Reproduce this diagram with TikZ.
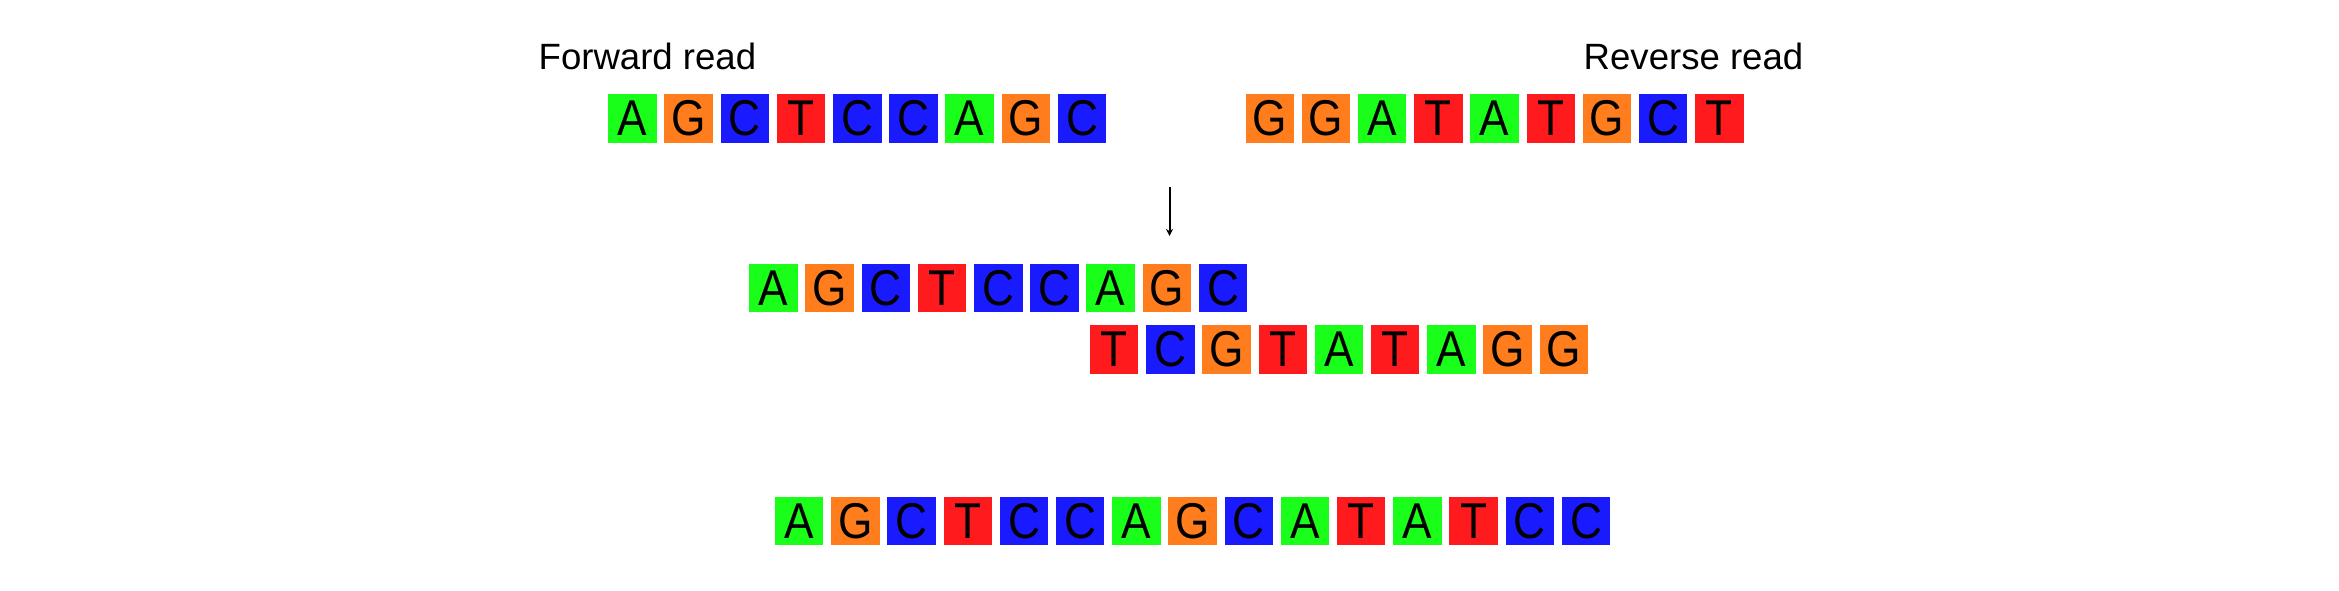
\documentclass[tikz,border=0pt]{standalone}
\usepackage{fontspec}
\setmainfont{Liberation Sans}
\newfontfamily\basefont[FakeStretch=0.88]{Liberation Sans}
\usetikzlibrary{arrows.meta}

\definecolor{colA}{RGB}{26,255,26}
\definecolor{colG}{RGB}{255,125,28}
\definecolor{colC}{RGB}{26,26,255}
\definecolor{colT}{RGB}{255,26,30}

\tikzset{
	base/.style={minimum width=0.485cm, minimum height=0.485cm, inner sep=0pt, text=black,
		font=\basefont\fontsize{14.3}{14.3}\selectfont},
	ntA/.style={base, fill=colA},
	ntG/.style={base, fill=colG},
	ntC/.style={base, fill=colC},
	ntT/.style={base, fill=colT},
	readlabel/.style={anchor=base west, inner sep=0pt, font=\fontsize{10.4}{12}\selectfont}
}

\begin{document}
\begin{tikzpicture}[x=0.01cm, y=-0.01cm]
			\useasboundingbox (0,0) rectangle (2339,591);

			% read labels
			\path	(538,70)	node[readlabel]	(fwdlabel)	{Forward read}
					(1583,70)	node[readlabel]	(revlabel)	{Reverse read};

			% forward read
			\path	(632.5,118.5)	node[ntA]	(f1)	{A}
					(688.7,118.5)	node[ntG]	(f2)	{G}
					(744.9,118.5)	node[ntC]	(f3)	{C}
					(801.1,118.5)	node[ntT]	(f4)	{T}
					(857.3,118.5)	node[ntC]	(f5)	{C}
					(913.5,118.5)	node[ntC]	(f6)	{C}
					(969.7,118.5)	node[ntA]	(f7)	{A}
					(1025.9,118.5)	node[ntG]	(f8)	{G}
					(1082.1,118.5)	node[ntC]	(f9)	{C};

			% reverse read
			\path	(1269.8,118.5)	node[ntG]	(r1)	{G}
					(1326.0,118.5)	node[ntG]	(r2)	{G}
					(1382.2,118.5)	node[ntA]	(r3)	{A}
					(1438.4,118.5)	node[ntT]	(r4)	{T}
					(1494.6,118.5)	node[ntA]	(r5)	{A}
					(1550.8,118.5)	node[ntT]	(r6)	{T}
					(1607.0,118.5)	node[ntG]	(r7)	{G}
					(1663.2,118.5)	node[ntC]	(r8)	{C}
					(1719.4,118.5)	node[ntT]	(r9)	{T};

			% arrow
			\coordinate (arrtop) at (1169.5,187);
			\coordinate (arrbot) at (1169.5,236);
			\draw[line width=0.02cm, -{Stealth[length=2pt, width=2pt]}]	(arrtop)	--	(arrbot);

			% aligned forward read
			\path	(773.5,287.8)	node[ntA]	(a1)	{A}
					(829.7,287.8)	node[ntG]	(a2)	{G}
					(885.9,287.8)	node[ntC]	(a3)	{C}
					(942.1,287.8)	node[ntT]	(a4)	{T}
					(998.3,287.8)	node[ntC]	(a5)	{C}
					(1054.5,287.8)	node[ntC]	(a6)	{C}
					(1110.7,287.8)	node[ntA]	(a7)	{A}
					(1166.9,287.8)	node[ntG]	(a8)	{G}
					(1223.1,287.8)	node[ntC]	(a9)	{C};

			% reverse complement
			\path	(1114.2,349.5)	node[ntT]	(b1)	{T}
					(1170.4,349.5)	node[ntC]	(b2)	{C}
					(1226.6,349.5)	node[ntG]	(b3)	{G}
					(1282.8,349.5)	node[ntT]	(b4)	{T}
					(1339.0,349.5)	node[ntA]	(b5)	{A}
					(1395.2,349.5)	node[ntT]	(b6)	{T}
					(1451.4,349.5)	node[ntA]	(b7)	{A}
					(1507.6,349.5)	node[ntG]	(b8)	{G}
					(1563.8,349.5)	node[ntG]	(b9)	{G};

			% merged sequence
			\path	(799.2,521.2)	node[ntA]	(m1)	{A}
					(855.4,521.2)	node[ntG]	(m2)	{G}
					(911.6,521.2)	node[ntC]	(m3)	{C}
					(967.8,521.2)	node[ntT]	(m4)	{T}
					(1024.0,521.2)	node[ntC]	(m5)	{C}
					(1080.2,521.2)	node[ntC]	(m6)	{C}
					(1136.4,521.2)	node[ntA]	(m7)	{A}
					(1192.6,521.2)	node[ntG]	(m8)	{G}
					(1248.8,521.2)	node[ntC]	(m9)	{C}
					(1305.0,521.2)	node[ntA]	(m10)	{A}
					(1361.2,521.2)	node[ntT]	(m11)	{T}
					(1417.4,521.2)	node[ntA]	(m12)	{A}
					(1473.6,521.2)	node[ntT]	(m13)	{T}
					(1529.8,521.2)	node[ntC]	(m14)	{C}
					(1586.0,521.2)	node[ntC]	(m15)	{C};
		\end{tikzpicture}
\end{document}
